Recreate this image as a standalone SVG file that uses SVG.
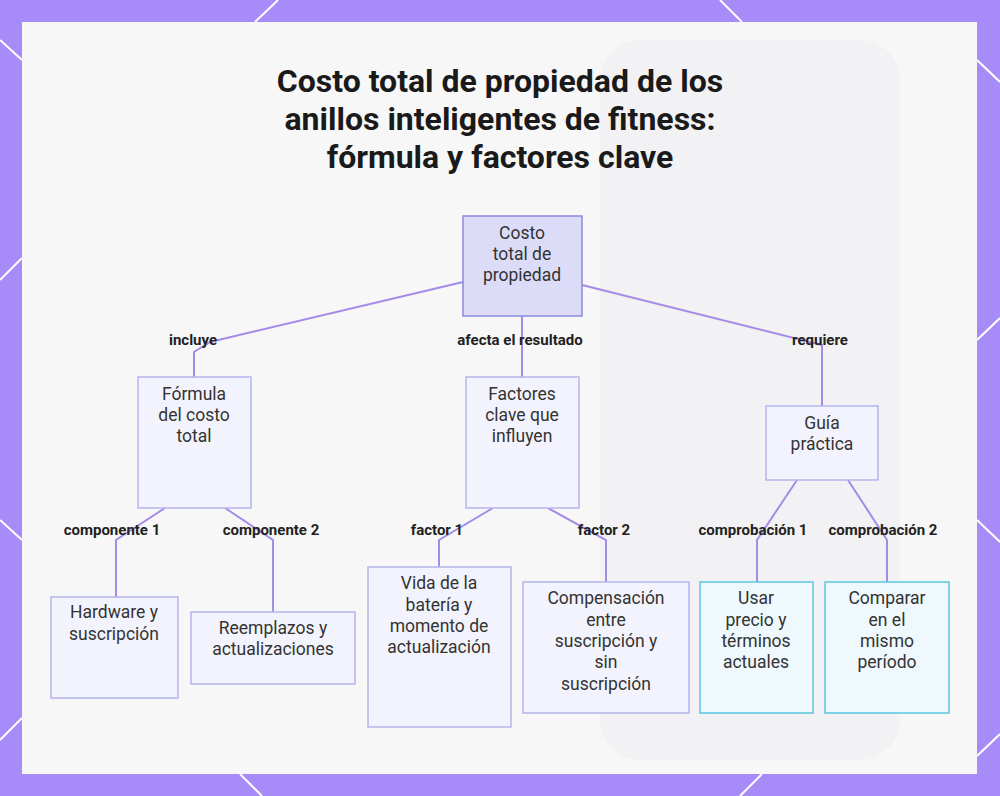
<svg xmlns="http://www.w3.org/2000/svg" width="1000" height="796" viewBox="0 0 1000 796">
<defs>
<style>
.t{font-family:Roboto,"Liberation Sans",sans-serif;font-size:17.5px;fill:#333;text-anchor:middle}
.l{font-family:Roboto,"Liberation Sans",sans-serif;font-size:15px;font-weight:bold;fill:#222;text-anchor:middle}
.h{font-family:Roboto,"Liberation Sans",sans-serif;font-size:32px;font-weight:bold;fill:#1a1a1a;text-anchor:middle}
.n{fill:#f3f3fd;stroke:#b5b5ec;stroke-width:1.5}
.r{fill:#dcdcf9;stroke:#8a8ae0;stroke-width:1.5}
.c{fill:#eef8fd;stroke:#5cc6df;stroke-width:1.5}
.e{fill:none;stroke:#a58be8;stroke-width:2}
.d{stroke:#fff;stroke-width:2}
</style>
</defs>
<rect width="1000" height="796" fill="#a78bf8"/>
<g class="d">
<line x1="0" y1="40" x2="22" y2="60"/><line x1="255" y1="22" x2="278" y2="0"/><line x1="0" y1="280" x2="22" y2="258"/>
<line x1="977" y1="60" x2="1000" y2="82"/><line x1="977" y1="340" x2="1000" y2="318"/><line x1="977" y1="520" x2="1000" y2="542"/>
<line x1="977" y1="756" x2="1000" y2="734"/><line x1="0" y1="740" x2="22" y2="718"/><line x1="0" y1="520" x2="22" y2="540"/>
<line x1="740" y1="796" x2="762" y2="774"/><line x1="240" y1="774" x2="262" y2="796"/><line x1="720" y1="0" x2="742" y2="22"/>
</g>
<rect x="22" y="22" width="955" height="752" fill="#f7f7f8"/>
<rect x="600" y="40" width="300" height="720" rx="40" fill="#efeff1" opacity="0.6"/>
<text class="h"><tspan x="500" y="92">Costo total de propiedad de los</tspan><tspan x="500" y="130">anillos inteligentes de fitness:</tspan><tspan x="500" y="168">fórmula y factores clave</tspan></text>
<g id="connectors">
<polyline class="e" points="463,282 210,342 194,352 194,377"/>
<polyline class="e" points="522,316 522,377"/>
<polyline class="e" points="582,285 822,345 822,406"/>
<polyline class="e" points="165,508 116,540 116,597"/>
<polyline class="e" points="225,508 273,540 273,612"/>
<polyline class="e" points="493,508 439,540 439,567"/>
<polyline class="e" points="548,508 606,540 606,582"/>
<polyline class="e" points="797,480 757,540 757,582"/>
<polyline class="e" points="848,480 887,540 887,582"/>
<text class="l" x="193" y="345">incluye</text>
<text class="l" x="520" y="345">afecta el resultado</text>
<text class="l" x="820" y="345">requiere</text>
<text class="l" x="112" y="535">componente 1</text>
<text class="l" x="271" y="535">componente 2</text>
<text class="l" x="437" y="535">factor 1</text>
<text class="l" x="604" y="535">factor 2</text>
<text class="l" x="753" y="535">comprobación 1</text>
<text class="l" x="883" y="535">comprobación 2</text>
</g>
<g id="root"><rect class="r" x="463" y="216" width="119" height="100"/><text class="t"><tspan x="522" y="239">Costo</tspan><tspan x="522" y="260">total de</tspan><tspan x="522" y="281">propiedad</tspan></text></g>
<g id="formula"><rect class="n" x="138" y="377" width="113" height="131"/><text class="t"><tspan x="194" y="400">Fórmula</tspan><tspan x="194" y="421">del costo</tspan><tspan x="194" y="442">total</tspan></text></g>
<g id="factores"><rect class="n" x="466" y="377" width="113" height="131"/><text class="t"><tspan x="522" y="400">Factores</tspan><tspan x="522" y="421">clave que</tspan><tspan x="522" y="442">influyen</tspan></text></g>
<g id="guia"><rect class="n" x="766" y="406" width="112" height="74"/><text class="t"><tspan x="822" y="429">Guía</tspan><tspan x="822" y="450">práctica</tspan></text></g>
<g id="hardware"><rect class="n" x="51" y="597" width="127" height="101"/><text class="t"><tspan x="114" y="618">Hardware y</tspan><tspan x="114" y="640">suscripción</tspan></text></g>
<g id="reemplazos"><rect class="n" x="191" y="612" width="164" height="72"/><text class="t"><tspan x="273" y="634">Reemplazos y</tspan><tspan x="273" y="655">actualizaciones</tspan></text></g>
<g id="vida"><rect class="n" x="368" y="567" width="143" height="160"/><text class="t"><tspan x="439" y="589">Vida de la</tspan><tspan x="439" y="611">batería y</tspan><tspan x="439" y="632">momento de</tspan><tspan x="439" y="653">actualización</tspan></text></g>
<g id="compensacion"><rect class="n" x="523" y="582" width="166" height="131"/><text class="t"><tspan x="606" y="604">Compensación</tspan><tspan x="606" y="626">entre</tspan><tspan x="606" y="647">suscripción y</tspan><tspan x="606" y="668">sin</tspan><tspan x="606" y="690">suscripción</tspan></text></g>
<g id="usar"><rect class="c" x="700" y="582" width="113" height="131"/><text class="t"><tspan x="756" y="604">Usar</tspan><tspan x="756" y="626">precio y</tspan><tspan x="756" y="647">términos</tspan><tspan x="756" y="668">actuales</tspan></text></g>
<g id="comparar"><rect class="c" x="825" y="582" width="124" height="131"/><text class="t"><tspan x="887" y="604">Comparar</tspan><tspan x="887" y="626">en el</tspan><tspan x="887" y="647">mismo</tspan><tspan x="887" y="668">período</tspan></text></g>
</svg>
